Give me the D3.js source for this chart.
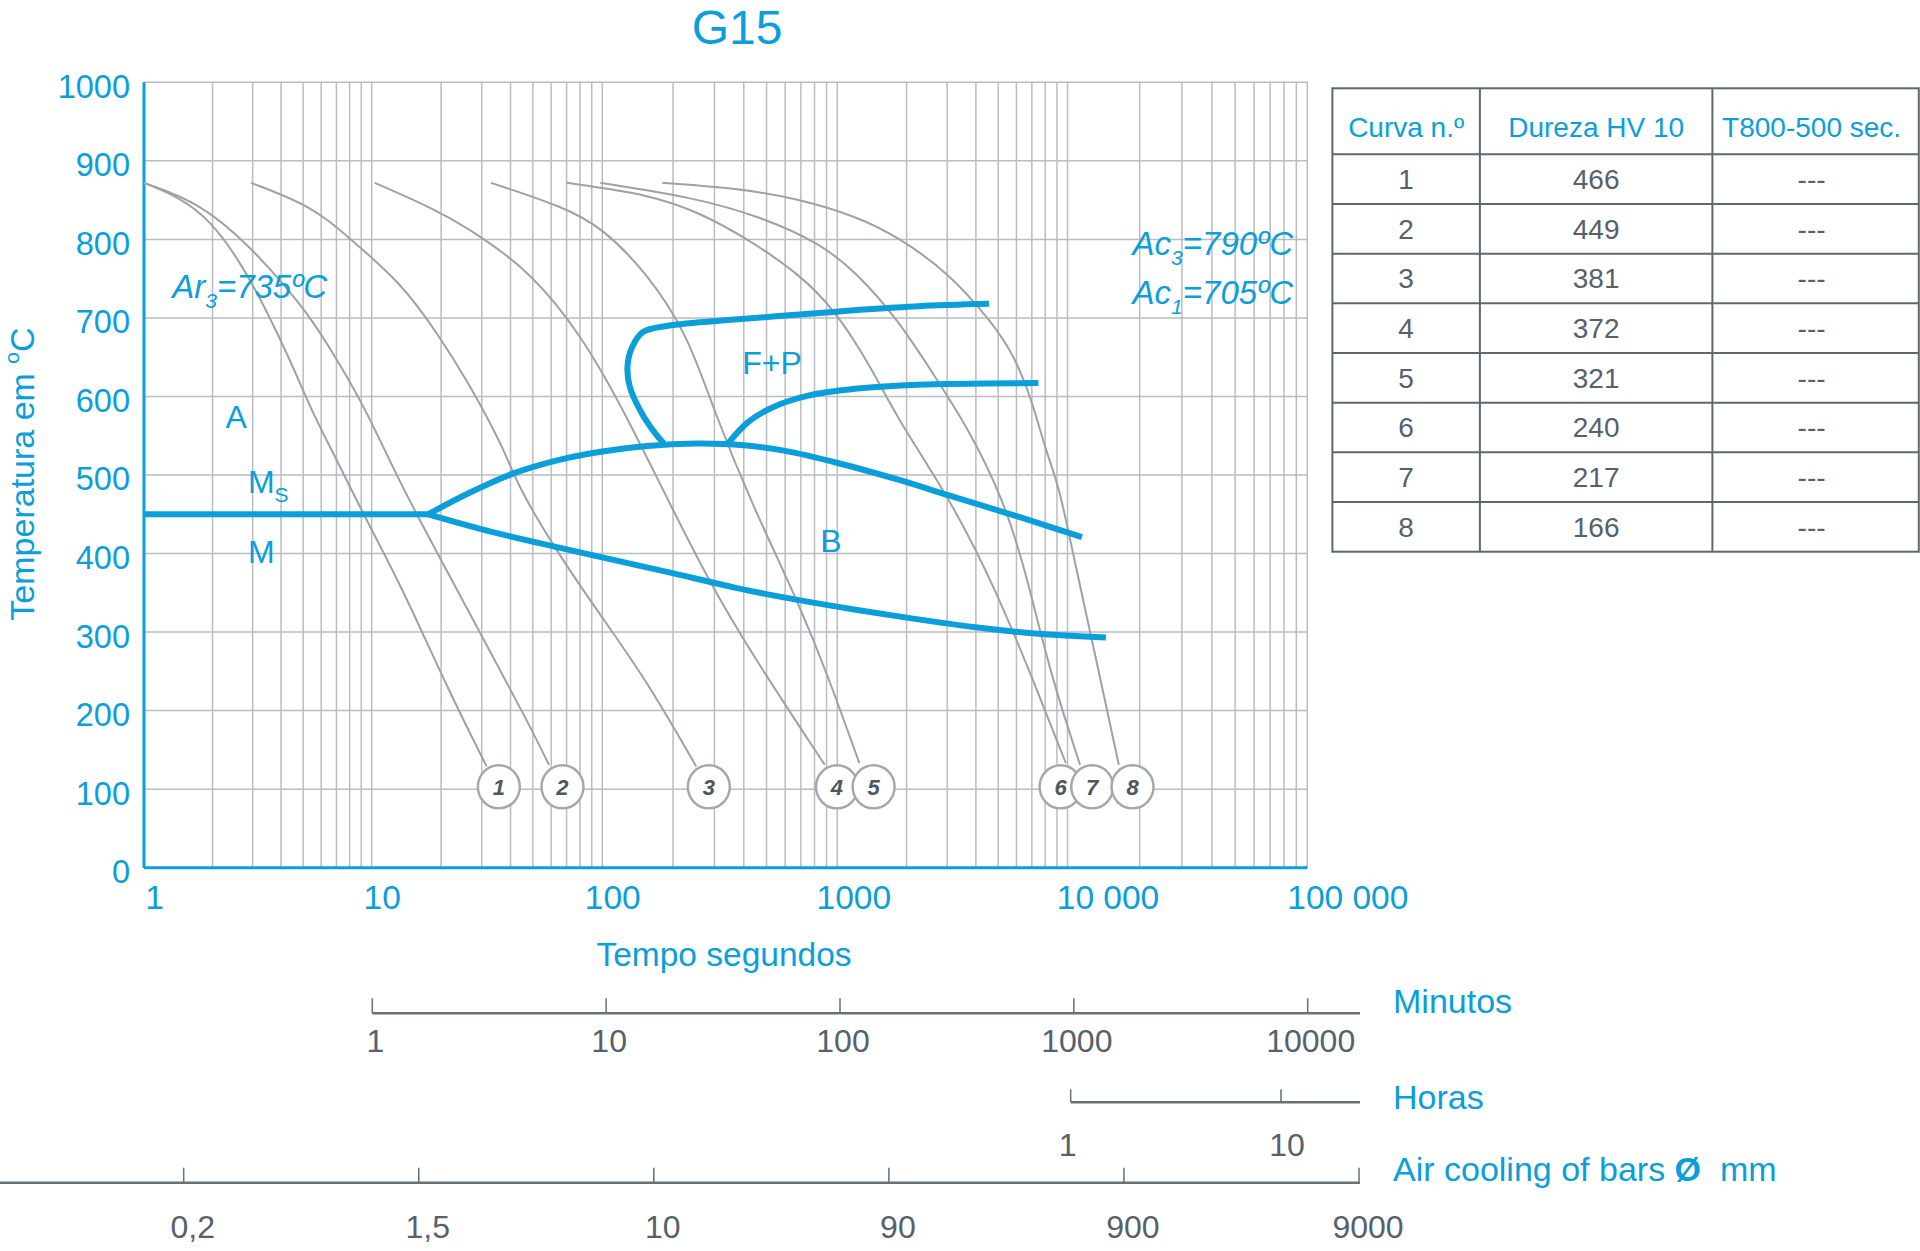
<!DOCTYPE html>
<html><head><meta charset="utf-8">
<script src="https://cdn.jsdelivr.net/npm/d3@7"></script>
<style>body{margin:0;background:#fff}svg{display:block}text{font-family:"Liberation Sans",Arial,Helvetica,sans-serif}</style>
</head><body><svg id="c" width="1920" height="1251"></svg>
<script>
// ---------------- DATA ----------------
const chartTitle = "G15";
const timeTicks = [1, 10, 100, 1000, 10000, 100000];
const timeTickLabels = ["1", "10", "100", "1000", "10 000", "100 000"];
const tempTicks = [0, 100, 200, 300, 400, 500, 600, 700, 800, 900, 1000];

// transformation lines [time s, temperature °C]
const msLine = [[1, 450], [17.6, 450]];
const bainiteStart = [[17.6, 450], [26.4, 477], [41.2, 502], [64.3, 519], [100, 530], [155, 537], [250, 540], [400, 538], [592, 531], [1014, 515], [1841, 494], [3055, 474], [5808, 449], [11490, 421]];
const bainiteEnd = [[17.6, 450], [33, 427], [60, 410], [110, 392], [201, 375], [366, 356], [669, 341], [1220, 328], [2249, 316], [4150, 305], [7660, 297], [14450, 293]];
const ferriteStart = [[183, 540], [168, 553], [147, 579], [131, 612], [128, 638], [134, 663], [149, 682], [190, 690], [366, 698], [669, 704], [1220, 710], [2249, 715], [4560, 718]];
const pearliteStart = [[340, 539], [416, 567], [529, 586], [752, 601], [1220, 610], [2249, 615], [7476, 617]];

// cooling curves [time s, temperature °C]
const curve1 = [[1, 872], [1.42, 854], [1.95, 825], [2.67, 770], [3.5, 706], [4.39, 646], [5.5, 579], [6.68, 532], [9.0, 455], [13.5, 358], [21.1, 231], [31.5, 129]];
const curve2 = [[1, 872], [1.78, 846], [2.92, 791], [4.19, 740], [5.5, 697], [7.21, 642], [9.44, 583], [13.5, 485], [21.1, 379], [32.9, 273], [47.1, 188], [58.7, 131]];
const curve3 = [[2.95, 872], [5.5, 842], [7.88, 803], [13.5, 744], [19.3, 680], [26.4, 617], [37.7, 532], [43.1, 485], [64.3, 400], [96.8, 324], [154, 239], [251, 129]];
const curve4 = [[10.3, 872], [19.3, 837], [30.1, 803], [49.2, 757], [80.4, 680], [122, 585], [175, 490], [287, 362], [431, 273], [884, 131]];
const curve5 = [[32.9, 872], [67.2, 842], [100, 815], [155, 757], [230, 680], [300, 580], [431, 464], [676, 341], [927, 239], [1247, 133]];
const curve6 = [[70, 872], [160, 857], [260, 834], [425, 799], [694, 755], [977, 710], [1387, 640], [1837, 570], [3055, 472], [4842, 357], [7295, 230], [9840, 133]];
const curve7 = [[98, 872], [240, 854], [472, 829], [848, 795], [1219, 757], [1841, 697], [2541, 634], [3670, 562], [5298, 468], [6668, 371], [8400, 248], [11280, 131]];
const curve8 = [[180, 872], [377, 865], [676, 852], [1219, 829], [1841, 803], [3055, 757], [4617, 697], [5808, 655], [6998, 596], [8020, 532], [9210, 485], [10530, 400], [12560, 294], [16370, 131]];
const coolingCurves = [curve1, curve2, curve3, curve4, curve5, curve6, curve7, curve8];
const curveLabelTimes = [35.6, 67.2, 284, 997, 1438, 9333, 12680, 18670];
const curveLabelTemp = 103;

// region / temperature annotations [time, temp]
const annotations = [
  {t: 2.28, T: 560, main: "A", sub: ""},
  {t: 2.86, T: 477, main: "M", sub: "S"},
  {t: 2.86, T: 388, main: "M", sub: ""},
  {t: 394, T: 629, main: "F+P", sub: ""},
  {t: 847, T: 402, main: "B", sub: ""}
];
const tempNotes = [
  {t: 1.33, T: 725, pre: "Ar", sub: "3", post: "=735ºC"},
  {t: 18680, T: 780, pre: "Ac", sub: "3", post: "=790ºC"},
  {t: 18680, T: 718, pre: "Ac", sub: "1", post: "=705ºC"}
];

// table
const tableHeader = ["Curva n.º", "Dureza HV 10", "T800-500 sec."];
const curveNumbers = [1, 2, 3, 4, 5, 6, 7, 8];
const hardnessHV10 = [466, 449, 381, 372, 321, 240, 217, 166];
const t800500 = ["---", "---", "---", "---", "---", "---", "---", "---"];

// secondary axes
const minuteTicks = [1, 10, 100, 1000, 10000];
const hourTicks = [1, 10];
const barDiameterLabels = ["0,2", "1,5", "10", "90", "900", "9000"];

// ---------------- DRAW ----------------
const BLUE = "#0a9edb", GRID = "#b9bcc0", CURVE = "#9ea2a6", DARK = "#56616b", AXG = "#66717a";
const FONT = '"Liberation Sans",Arial,sans-serif';
const svg = d3.select("#c");

const x = d3.scaleLog().domain(timeTicks).range([144, 371.7, 602.3, 837.3, 1067.5, 1307.3]);
const y = d3.scaleLinear().domain([0, 1000]).range([867.7, 82.3]);

// title
svg.append("text").attr("x", 737).attr("y", 44).attr("text-anchor", "middle")
  .attr("font-size", 48).attr("fill", BLUE).text(chartTitle);

// grid
const grid = svg.append("g");
grid.selectAll(".vg").data(x.ticks()).join("line")
  .attr("x1", d => x(d)).attr("x2", d => x(d)).attr("y1", y(0)).attr("y2", y(1000))
  .attr("stroke", GRID).attr("stroke-width", 1.5);
grid.selectAll(".hg").data(tempTicks.filter(d => d > 0)).join("line")
  .attr("x1", x(1)).attr("x2", x(100000)).attr("y1", d => y(d)).attr("y2", d => y(d))
  .attr("stroke", GRID).attr("stroke-width", 1.5);

// y axis
const yAxis = svg.append("g").attr("transform", `translate(${x(1)},0)`)
  .call(d3.axisLeft(y).tickValues(tempTicks).tickSize(0).tickPadding(14).tickFormat(d3.format("d")));
yAxis.select(".domain").remove();
yAxis.selectAll("text").attr("font-size", 32.5).attr("fill", BLUE).attr("dy", "0.46em")
  .style("font-family", FONT);

// x axis labels
const xAxis = svg.append("g").attr("transform", `translate(0,${y(0)})`)
  .call(d3.axisBottom(x).tickValues(timeTicks).tickSize(0).tickPadding(0)
    .tickFormat((d, i) => timeTickLabels[i]));
xAxis.select(".domain").remove();
xAxis.selectAll("text").attr("font-size", 33.5).attr("fill", BLUE).attr("dy", 0).attr("y", 41)
  .attr("dx", d => d >= 10000 ? 40 : (d === 1000 ? 16 : 10))
  .style("font-family", FONT);

// blue axis lines
svg.append("line").attr("x1", x(1)).attr("x2", x(1)).attr("y1", y(1000)).attr("y2", y(0))
  .attr("stroke", BLUE).attr("stroke-width", 3);
svg.append("line").attr("x1", x(1)).attr("x2", x(100000)).attr("y1", y(0)).attr("y2", y(0))
  .attr("stroke", BLUE).attr("stroke-width", 3);

// axis titles
svg.append("text").attr("x", 724).attr("y", 966).attr("text-anchor", "middle")
  .attr("font-size", 33.5).attr("fill", BLUE).text("Tempo segundos");
const yt = svg.append("text").attr("transform", "translate(34,474) rotate(-90)")
  .attr("text-anchor", "middle").attr("font-size", 34).attr("fill", BLUE);
yt.append("tspan").text("Temperatura em ");
yt.append("tspan").attr("font-size", 21).attr("dy", -15).text("o");
yt.append("tspan").attr("dy", 15).text("C");

// cooling curves
const smooth = d3.line().x(d => x(d[0])).y(d => y(d[1])).curve(d3.curveBasis);
const through = d3.line().x(d => x(d[0])).y(d => y(d[1])).curve(d3.curveCatmullRom.alpha(0.5));
svg.append("g").selectAll("path").data(coolingCurves).join("path")
  .attr("d", smooth).attr("fill", "none").attr("stroke", CURVE).attr("stroke-width", 2);

// transformation lines
const tg = svg.append("g").attr("fill", "none").attr("stroke", BLUE).attr("stroke-width", 6)
  .attr("stroke-linejoin", "round");
tg.append("path").attr("d", through(msLine));
tg.append("path").attr("d", through(bainiteStart));
tg.append("path").attr("d", smooth(bainiteEnd));
tg.append("path").attr("d", through(ferriteStart));
tg.append("path").attr("d", through(pearliteStart));

// curve number markers
const mk = svg.append("g").selectAll("g").data(curveLabelTimes).join("g")
  .attr("transform", d => `translate(${x(d)},${y(curveLabelTemp)})`);
mk.append("ellipse").attr("rx", 21).attr("ry", 21.5).attr("fill", "#fff")
  .attr("stroke", "#a4a8ac").attr("stroke-width", 2.5);
mk.append("text").attr("text-anchor", "middle").attr("dy", "0.36em")
  .attr("font-size", 22).attr("font-style", "italic").attr("font-weight", "bold")
  .attr("fill", "#4d5760").text((d, i) => curveNumbers[i]);

// annotations
annotations.forEach(a => {
  const t = svg.append("text").attr("x", x(a.t)).attr("y", y(a.T))
    .attr("font-size", 32).attr("fill", BLUE);
  t.append("tspan").text(a.main);
  if (a.sub) t.append("tspan").attr("font-size", 21).attr("dy", 9).text(a.sub);
});
tempNotes.forEach(a => {
  const t = svg.append("text").attr("x", x(a.t)).attr("y", y(a.T))
    .attr("font-size", 33).attr("font-style", "italic").attr("fill", BLUE);
  t.append("tspan").text(a.pre);
  t.append("tspan").attr("font-size", 21).attr("dy", 10).text(a.sub);
  t.append("tspan").attr("dy", -10).text(a.post);
});

// table
const colEdges = [1332.4, 1479.9, 1712.4, 1918.8];
const tableTop = 88.3, headerBottom = 154.3;
const rowY = d3.scaleBand().domain(curveNumbers).range([headerBottom, 551.7]);
const tb = svg.append("g");
tb.append("rect").attr("x", colEdges[0]).attr("y", tableTop)
  .attr("width", colEdges[3] - colEdges[0]).attr("height", rowY.range()[1] - tableTop)
  .attr("fill", "none").attr("stroke", "#5d6871").attr("stroke-width", 2);
tb.selectAll(".cl").data(colEdges.slice(1, 3)).join("line")
  .attr("x1", d => d).attr("x2", d => d).attr("y1", tableTop).attr("y2", rowY.range()[1])
  .attr("stroke", "#5d6871").attr("stroke-width", 2);
tb.selectAll(".rl").data(curveNumbers).join("line")
  .attr("x1", colEdges[0]).attr("x2", colEdges[3]).attr("y1", d => rowY(d)).attr("y2", d => rowY(d))
  .attr("stroke", "#5d6871").attr("stroke-width", 2);
const colMid = i => (colEdges[i] + colEdges[i + 1]) / 2 - (i === 2 ? 4 : 0);
tb.selectAll(".ht").data(tableHeader).join("text")
  .attr("x", (d, i) => colMid(i)).attr("y", headerBottom - 17).attr("text-anchor", "middle")
  .attr("font-size", 28).attr("fill", BLUE).text(d => d);
const rows = curveNumbers.map((n, i) => [n, hardnessHV10[i], t800500[i]]);
rows.forEach((r, ri) => {
  r.forEach((v, ci) => {
    tb.append("text").attr("x", colMid(ci)).attr("y", rowY(curveNumbers[ri]) + rowY.bandwidth() / 2)
      .attr("dy", "0.35em").attr("text-anchor", "middle").attr("font-size", 28)
      .attr("fill", DARK).text(v);
  });
});

// minutes axis
const xm = d3.scaleLog().domain([1, 10000]).range([372.3, 1307.7]);
const minY = 1013.3;
svg.append("line").attr("x1", xm(1)).attr("x2", 1360).attr("y1", minY).attr("y2", minY)
  .attr("stroke", AXG).attr("stroke-width", 2.5);
svg.append("g").selectAll("line").data(minuteTicks).join("line")
  .attr("x1", d => xm(d)).attr("x2", d => xm(d)).attr("y1", minY - 15).attr("y2", minY)
  .attr("stroke", AXG).attr("stroke-width", 1.5);
svg.append("g").selectAll("text").data(minuteTicks).join("text")
  .attr("x", d => xm(d) + 3).attr("y", minY + 38.5).attr("text-anchor", "middle")
  .attr("font-size", 32).attr("fill", DARK).text(d => d);

// hours axis
const xh = d3.scaleLog().domain([1, 10]).range([1070.7, 1281]);
const hrY = 1102.3;
svg.append("line").attr("x1", xh(1)).attr("x2", 1360).attr("y1", hrY).attr("y2", hrY)
  .attr("stroke", AXG).attr("stroke-width", 2.5);
svg.append("g").selectAll("line").data(hourTicks).join("line")
  .attr("x1", d => xh(d)).attr("x2", d => xh(d)).attr("y1", hrY - 13).attr("y2", hrY)
  .attr("stroke", AXG).attr("stroke-width", 1.5);
svg.append("g").selectAll("text").data(hourTicks).join("text")
  .attr("x", d => xh(d) + (d > 1 ? 6 : -3)).attr("y", hrY + 53.5).attr("text-anchor", "middle")
  .attr("font-size", 32).attr("fill", DARK).text(d => d);

// bar diameter axis
const xb = d3.scalePoint().domain(barDiameterLabels).range([183.7, 1359]);
const barY = 1182.7;
svg.append("line").attr("x1", 0).attr("x2", 1360).attr("y1", barY).attr("y2", barY)
  .attr("stroke", AXG).attr("stroke-width", 2.5);
svg.append("g").selectAll("line").data(barDiameterLabels).join("line")
  .attr("x1", d => xb(d)).attr("x2", d => xb(d)).attr("y1", barY - 15).attr("y2", barY)
  .attr("stroke", AXG).attr("stroke-width", 1.5);
svg.append("g").selectAll("text").data(barDiameterLabels).join("text")
  .attr("x", d => xb(d) + 9).attr("y", barY + 55.5).attr("text-anchor", "middle")
  .attr("font-size", 32).attr("fill", DARK).text(d => d);

// secondary axis titles
svg.append("text").attr("x", 1393).attr("y", 1013).attr("font-size", 34).attr("fill", BLUE).text("Minutos");
svg.append("text").attr("x", 1393).attr("y", 1109).attr("font-size", 34).attr("fill", BLUE).text("Horas");
const ac = svg.append("text").attr("x", 1393).attr("y", 1181).attr("font-size", 34).attr("fill", BLUE);
ac.append("tspan").text("Air cooling of bars ");
ac.append("tspan").attr("font-weight", "bold").text("Ø");
ac.append("tspan").text("\u00a0 mm");
</script></body></html>
